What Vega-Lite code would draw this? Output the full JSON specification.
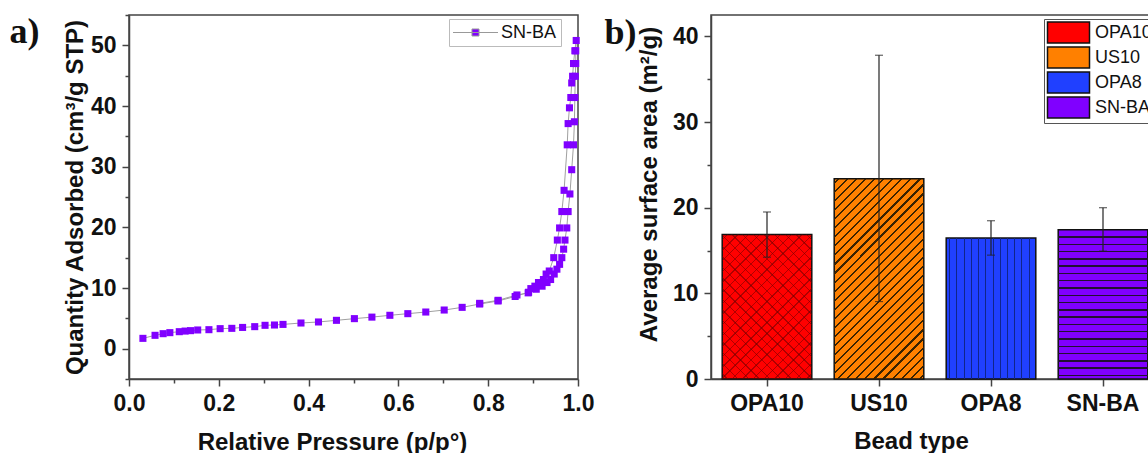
{
  "$schema": "https://vega.github.io/schema/vega-lite/v6.json",
  "padding": {"left": 8, "top": 13, "right": 0, "bottom": 0},
  "background": "white",
  "config": {
    "font": "Liberation Sans",
    "view": {"stroke": "#444", "strokeWidth": 1.5},
    "axis": {"domainColor": "#444", "domainWidth": 1.5, "tickColor": "#444", "tickWidth": 1.5, "labelFont": "Liberation Sans", "labelFontWeight": "bold", "labelFontSize": 23, "labelColor": "#111", "titleFont": "Liberation Sans", "titleFontWeight": "bold", "titleFontSize": 24, "titleColor": "#111", "grid": false},
    "title": {"font": "Liberation Serif", "fontSize": 36, "fontWeight": "bold", "color": "#111"}
  },
  "resolve": {"scale": {"color": "independent"}, "legend": {"color": "independent"}},
  "spacing": 8,
  "hconcat": [
    {
      "width": 449,
      "height": 364,
      "title": {"text": "a)", "anchor": "start", "frame": "bounds", "dx": -54, "dy": 41},
      "data": {"values": [
        {"i": 1, "p": 0.031, "q": 1.70, "series": "SN-BA"},
        {"i": 2, "p": 0.058, "q": 2.20, "series": "SN-BA"},
        {"i": 3, "p": 0.076, "q": 2.47, "series": "SN-BA"},
        {"i": 4, "p": 0.091, "q": 2.64, "series": "SN-BA"},
        {"i": 5, "p": 0.112, "q": 2.80, "series": "SN-BA"},
        {"i": 6, "p": 0.125, "q": 2.90, "series": "SN-BA"},
        {"i": 7, "p": 0.137, "q": 2.97, "series": "SN-BA"},
        {"i": 8, "p": 0.153, "q": 3.08, "series": "SN-BA"},
        {"i": 9, "p": 0.178, "q": 3.13, "series": "SN-BA"},
        {"i": 10, "p": 0.203, "q": 3.30, "series": "SN-BA"},
        {"i": 11, "p": 0.229, "q": 3.35, "series": "SN-BA"},
        {"i": 12, "p": 0.253, "q": 3.50, "series": "SN-BA"},
        {"i": 13, "p": 0.280, "q": 3.63, "series": "SN-BA"},
        {"i": 14, "p": 0.303, "q": 3.85, "series": "SN-BA"},
        {"i": 15, "p": 0.324, "q": 3.90, "series": "SN-BA"},
        {"i": 16, "p": 0.343, "q": 4.00, "series": "SN-BA"},
        {"i": 17, "p": 0.383, "q": 4.23, "series": "SN-BA"},
        {"i": 18, "p": 0.422, "q": 4.40, "series": "SN-BA"},
        {"i": 19, "p": 0.462, "q": 4.67, "series": "SN-BA"},
        {"i": 20, "p": 0.502, "q": 4.95, "series": "SN-BA"},
        {"i": 21, "p": 0.541, "q": 5.20, "series": "SN-BA"},
        {"i": 22, "p": 0.581, "q": 5.50, "series": "SN-BA"},
        {"i": 23, "p": 0.621, "q": 5.77, "series": "SN-BA"},
        {"i": 24, "p": 0.661, "q": 6.04, "series": "SN-BA"},
        {"i": 25, "p": 0.702, "q": 6.37, "series": "SN-BA"},
        {"i": 26, "p": 0.742, "q": 6.81, "series": "SN-BA"},
        {"i": 27, "p": 0.781, "q": 7.36, "series": "SN-BA"},
        {"i": 28, "p": 0.822, "q": 7.86, "series": "SN-BA"},
        {"i": 29, "p": 0.860, "q": 8.60, "series": "SN-BA"},
        {"i": 30, "p": 0.890, "q": 9.30, "series": "SN-BA"},
        {"i": 31, "p": 0.907, "q": 9.80, "series": "SN-BA"},
        {"i": 32, "p": 0.920, "q": 10.30, "series": "SN-BA"},
        {"i": 33, "p": 0.931, "q": 10.90, "series": "SN-BA"},
        {"i": 34, "p": 0.939, "q": 11.40, "series": "SN-BA"},
        {"i": 35, "p": 0.947, "q": 12.30, "series": "SN-BA"},
        {"i": 36, "p": 0.953, "q": 13.10, "series": "SN-BA"},
        {"i": 37, "p": 0.959, "q": 13.90, "series": "SN-BA"},
        {"i": 38, "p": 0.964, "q": 15.00, "series": "SN-BA"},
        {"i": 39, "p": 0.968, "q": 16.40, "series": "SN-BA"},
        {"i": 40, "p": 0.971, "q": 17.90, "series": "SN-BA"},
        {"i": 41, "p": 0.975, "q": 19.90, "series": "SN-BA"},
        {"i": 42, "p": 0.978, "q": 22.60, "series": "SN-BA"},
        {"i": 43, "p": 0.982, "q": 25.50, "series": "SN-BA"},
        {"i": 44, "p": 0.986, "q": 29.50, "series": "SN-BA"},
        {"i": 45, "p": 0.990, "q": 33.60, "series": "SN-BA"},
        {"i": 46, "p": 0.992, "q": 37.40, "series": "SN-BA"},
        {"i": 47, "p": 0.993, "q": 41.40, "series": "SN-BA"},
        {"i": 48, "p": 0.994, "q": 44.90, "series": "SN-BA"},
        {"i": 49, "p": 0.995, "q": 47.00, "series": "SN-BA"},
        {"i": 50, "p": 0.995, "q": 49.10, "series": "SN-BA"},
        {"i": 51, "p": 0.996, "q": 50.80, "series": "SN-BA"},
        {"i": 52, "p": 0.993, "q": 49.10, "series": "SN-BA"},
        {"i": 53, "p": 0.990, "q": 47.00, "series": "SN-BA"},
        {"i": 54, "p": 0.988, "q": 44.90, "series": "SN-BA"},
        {"i": 55, "p": 0.986, "q": 43.80, "series": "SN-BA"},
        {"i": 56, "p": 0.984, "q": 41.40, "series": "SN-BA"},
        {"i": 57, "p": 0.981, "q": 39.70, "series": "SN-BA"},
        {"i": 58, "p": 0.978, "q": 37.10, "series": "SN-BA"},
        {"i": 59, "p": 0.976, "q": 33.60, "series": "SN-BA"},
        {"i": 60, "p": 0.969, "q": 26.10, "series": "SN-BA"},
        {"i": 61, "p": 0.964, "q": 22.60, "series": "SN-BA"},
        {"i": 62, "p": 0.959, "q": 19.90, "series": "SN-BA"},
        {"i": 63, "p": 0.954, "q": 17.90, "series": "SN-BA"},
        {"i": 64, "p": 0.946, "q": 15.00, "series": "SN-BA"},
        {"i": 65, "p": 0.936, "q": 12.80, "series": "SN-BA"},
        {"i": 66, "p": 0.929, "q": 12.30, "series": "SN-BA"},
        {"i": 67, "p": 0.923, "q": 11.40, "series": "SN-BA"},
        {"i": 68, "p": 0.912, "q": 10.90, "series": "SN-BA"},
        {"i": 69, "p": 0.904, "q": 10.30, "series": "SN-BA"},
        {"i": 70, "p": 0.895, "q": 9.90, "series": "SN-BA"},
        {"i": 71, "p": 0.889, "q": 9.20, "series": "SN-BA"},
        {"i": 72, "p": 0.864, "q": 8.85, "series": "SN-BA"},
        {"i": 73, "p": 0.822, "q": 7.97, "series": "SN-BA"},
        {"i": 74, "p": 0.781, "q": 7.47, "series": "SN-BA"}
      ]},
      "encoding": {
        "x": {"field": "p", "type": "quantitative", "scale": {"domain": [0, 1], "nice": false, "zero": false},
          "axis": {"title": "Relative Pressure (p/p°)", "titleX": 203, "titlePadding": 15, "values": [0, 0.1, 0.2, 0.3, 0.4, 0.5, 0.6, 0.7, 0.8, 0.9, 1.0],
            "labelExpr": "round(datum.value * 10) % 2 === 0 ? format(datum.value, '.1f') : ''",
            "tickSize": {"condition": {"test": "round(datum.value * 10) % 2 === 0", "value": 7}, "value": 4},
            "labelPadding": 6, "labelFlush": false}},
        "y": {"field": "q", "type": "quantitative", "scale": {"domain": [-5, 55], "nice": false, "zero": false},
          "axis": {"title": "Quantity Adsorbed (cm³/g STP)", "titlePadding": 3, "values": [-5, 0, 5, 10, 15, 20, 25, 30, 35, 40, 45, 50, 55],
            "labelExpr": "datum.value % 10 === 0 ? format(datum.value, 'd') : ''",
            "tickSize": {"condition": {"test": "datum.value % 10 === 0", "value": 7}, "value": 4},
            "labelPadding": 6}}
      },
      "layer": [
        {"mark": {"type": "line", "color": "#a0a0a0", "strokeWidth": 1}, "encoding": {"order": {"field": "i", "type": "quantitative"}}},
        {"mark": {"type": "square", "filled": true, "size": 50, "opacity": 1},
          "encoding": {"color": {"field": "series", "type": "nominal", "scale": {"domain": ["SN-BA"], "range": ["#8000ff"]},
            "legend": {"orient": "none", "legendX": 320, "legendY": 4, "title": null,
              "symbolType": "M-2.5,0H2.5M-0.39,-0.39H0.39V0.39H-0.39Z", "symbolSize": 324, "symbolOffset": 13,
              "symbolStrokeColor": "#999", "symbolStrokeWidth": 1,
              "labelFont": "Liberation Sans", "labelFontSize": 18, "labelFontWeight": "normal", "labelColor": "#111",
              "strokeColor": "#bbb", "fillColor": "white", "padding": 4, "labelOffset": 16}}}}
      ]
    },
    {
      "width": 448,
      "height": 364,
      "title": {"text": "b)", "anchor": "start", "frame": "bounds", "dx": -33, "dy": 41},
      "data": {"values": [
        {"bead": "OPA10", "mean": 16.88, "lo": 14.22, "hi": 19.50},
        {"bead": "US10", "mean": 23.39, "lo": 9.04, "hi": 37.80},
        {"bead": "OPA8", "mean": 16.45, "lo": 14.46, "hi": 18.48},
        {"bead": "SN-BA", "mean": 17.43, "lo": 14.93, "hi": 20.00}
      ]},
      "encoding": {
        "x": {"field": "bead", "type": "nominal", "sort": null, "scale": {"paddingInner": 0.2, "paddingOuter": 0.1},
          "axis": {"title": "Bead type", "titleX": 200, "titlePadding": 14, "labelAngle": 0, "tickSize": 7, "labelPadding": 6}},
        "y": {"field": "mean", "type": "quantitative", "scale": {"domain": [0, 42.5], "nice": false},
          "axis": {"title": "Average surface area (m²/g)", "titleY": 169, "titlePadding": 11, "values": [0, 5, 10, 15, 20, 25, 30, 35, 40],
            "labelExpr": "datum.value % 10 === 0 ? format(datum.value, 'd') : ''",
            "tickSize": {"condition": {"test": "datum.value % 10 === 0", "value": 7}, "value": 4},
            "labelPadding": 6}}
      },
      "layer": [
        {"mark": {"type": "bar", "stroke": "#111", "strokeWidth": 1.5},
          "encoding": {
            "color": {"field": "bead", "type": "nominal", "sort": null,
              "scale": {"domain": ["OPA10", "US10", "OPA8", "SN-BA"], "range": ["#ff0000", "#ff8000", "#2040ff", "#8000ff"]},
              "legend": {"orient": "none", "legendX": 333, "legendY": 4, "title": null,
                "symbolType": "M-2,-1H2V1H-2Z", "symbolSize": 441, "symbolOffset": 11,
                "symbolStrokeColor": "#111", "symbolStrokeWidth": 1.5,
                "labelFont": "Liberation Sans", "labelFontSize": 18, "labelFontWeight": "normal", "labelColor": "#111",
                "strokeColor": "#555", "fillColor": "white", "padding": 2, "rowPadding": -4, "labelOffset": 15}}
          }},
        {"transform": [{"filter": "datum.bead === 'SN-BA'"}],
          "mark": {"type": "bar", "stroke": null, "fill": {"gradient": "linear", "x1": 0, "y1": 0, "x2": 0, "y2": 1, "stops": [
            {"offset": 0.0438, "color": "rgba(0,0,0,0)"}, {"offset": 0.0438, "color": "#221133"}, {"offset": 0.0538, "color": "#221133"}, {"offset": 0.0538, "color": "rgba(0,0,0,0)"},
            {"offset": 0.0926, "color": "rgba(0,0,0,0)"}, {"offset": 0.0926, "color": "#221133"}, {"offset": 0.1026, "color": "#221133"}, {"offset": 0.1026, "color": "rgba(0,0,0,0)"},
            {"offset": 0.1414, "color": "rgba(0,0,0,0)"}, {"offset": 0.1414, "color": "#221133"}, {"offset": 0.1514, "color": "#221133"}, {"offset": 0.1514, "color": "rgba(0,0,0,0)"},
            {"offset": 0.1902, "color": "rgba(0,0,0,0)"}, {"offset": 0.1902, "color": "#221133"}, {"offset": 0.2002, "color": "#221133"}, {"offset": 0.2002, "color": "rgba(0,0,0,0)"},
            {"offset": 0.2390, "color": "rgba(0,0,0,0)"}, {"offset": 0.2390, "color": "#221133"}, {"offset": 0.2490, "color": "#221133"}, {"offset": 0.2490, "color": "rgba(0,0,0,0)"},
            {"offset": 0.2878, "color": "rgba(0,0,0,0)"}, {"offset": 0.2878, "color": "#221133"}, {"offset": 0.2978, "color": "#221133"}, {"offset": 0.2978, "color": "rgba(0,0,0,0)"},
            {"offset": 0.3366, "color": "rgba(0,0,0,0)"}, {"offset": 0.3366, "color": "#221133"}, {"offset": 0.3466, "color": "#221133"}, {"offset": 0.3466, "color": "rgba(0,0,0,0)"},
            {"offset": 0.3854, "color": "rgba(0,0,0,0)"}, {"offset": 0.3854, "color": "#221133"}, {"offset": 0.3954, "color": "#221133"}, {"offset": 0.3954, "color": "rgba(0,0,0,0)"},
            {"offset": 0.4342, "color": "rgba(0,0,0,0)"}, {"offset": 0.4342, "color": "#221133"}, {"offset": 0.4442, "color": "#221133"}, {"offset": 0.4442, "color": "rgba(0,0,0,0)"},
            {"offset": 0.4830, "color": "rgba(0,0,0,0)"}, {"offset": 0.4830, "color": "#221133"}, {"offset": 0.4930, "color": "#221133"}, {"offset": 0.4930, "color": "rgba(0,0,0,0)"},
            {"offset": 0.5318, "color": "rgba(0,0,0,0)"}, {"offset": 0.5318, "color": "#221133"}, {"offset": 0.5418, "color": "#221133"}, {"offset": 0.5418, "color": "rgba(0,0,0,0)"},
            {"offset": 0.5806, "color": "rgba(0,0,0,0)"}, {"offset": 0.5806, "color": "#221133"}, {"offset": 0.5906, "color": "#221133"}, {"offset": 0.5906, "color": "rgba(0,0,0,0)"},
            {"offset": 0.6294, "color": "rgba(0,0,0,0)"}, {"offset": 0.6294, "color": "#221133"}, {"offset": 0.6394, "color": "#221133"}, {"offset": 0.6394, "color": "rgba(0,0,0,0)"},
            {"offset": 0.6782, "color": "rgba(0,0,0,0)"}, {"offset": 0.6782, "color": "#221133"}, {"offset": 0.6882, "color": "#221133"}, {"offset": 0.6882, "color": "rgba(0,0,0,0)"},
            {"offset": 0.7270, "color": "rgba(0,0,0,0)"}, {"offset": 0.7270, "color": "#221133"}, {"offset": 0.7370, "color": "#221133"}, {"offset": 0.7370, "color": "rgba(0,0,0,0)"},
            {"offset": 0.7758, "color": "rgba(0,0,0,0)"}, {"offset": 0.7758, "color": "#221133"}, {"offset": 0.7858, "color": "#221133"}, {"offset": 0.7858, "color": "rgba(0,0,0,0)"},
            {"offset": 0.8246, "color": "rgba(0,0,0,0)"}, {"offset": 0.8246, "color": "#221133"}, {"offset": 0.8346, "color": "#221133"}, {"offset": 0.8346, "color": "rgba(0,0,0,0)"},
            {"offset": 0.8734, "color": "rgba(0,0,0,0)"}, {"offset": 0.8734, "color": "#221133"}, {"offset": 0.8834, "color": "#221133"}, {"offset": 0.8834, "color": "rgba(0,0,0,0)"},
            {"offset": 0.9222, "color": "rgba(0,0,0,0)"}, {"offset": 0.9222, "color": "#221133"}, {"offset": 0.9322, "color": "#221133"}, {"offset": 0.9322, "color": "rgba(0,0,0,0)"},
            {"offset": 0.9710, "color": "rgba(0,0,0,0)"}, {"offset": 0.9710, "color": "#221133"}, {"offset": 0.9810, "color": "#221133"}, {"offset": 0.9810, "color": "rgba(0,0,0,0)"}
          ]}}},
        {"transform": [{"filter": "datum.bead === 'OPA8'"}],
          "mark": {"type": "bar", "stroke": null, "fill": {"gradient": "linear", "x1": 0, "y1": 0, "x2": 1, "y2": 0, "stops": [
            {"offset": 0.0344, "color": "rgba(0,0,0,0)"}, {"offset": 0.0344, "color": "#10258a"}, {"offset": 0.0456, "color": "#10258a"}, {"offset": 0.0456, "color": "rgba(0,0,0,0)"},
            {"offset": 0.1148, "color": "rgba(0,0,0,0)"}, {"offset": 0.1148, "color": "#10258a"}, {"offset": 0.1260, "color": "#10258a"}, {"offset": 0.1260, "color": "rgba(0,0,0,0)"},
            {"offset": 0.1952, "color": "rgba(0,0,0,0)"}, {"offset": 0.1952, "color": "#10258a"}, {"offset": 0.2064, "color": "#10258a"}, {"offset": 0.2064, "color": "rgba(0,0,0,0)"},
            {"offset": 0.2756, "color": "rgba(0,0,0,0)"}, {"offset": 0.2756, "color": "#10258a"}, {"offset": 0.2868, "color": "#10258a"}, {"offset": 0.2868, "color": "rgba(0,0,0,0)"},
            {"offset": 0.3560, "color": "rgba(0,0,0,0)"}, {"offset": 0.3560, "color": "#10258a"}, {"offset": 0.3672, "color": "#10258a"}, {"offset": 0.3672, "color": "rgba(0,0,0,0)"},
            {"offset": 0.4364, "color": "rgba(0,0,0,0)"}, {"offset": 0.4364, "color": "#10258a"}, {"offset": 0.4476, "color": "#10258a"}, {"offset": 0.4476, "color": "rgba(0,0,0,0)"},
            {"offset": 0.5168, "color": "rgba(0,0,0,0)"}, {"offset": 0.5168, "color": "#10258a"}, {"offset": 0.5280, "color": "#10258a"}, {"offset": 0.5280, "color": "rgba(0,0,0,0)"},
            {"offset": 0.5972, "color": "rgba(0,0,0,0)"}, {"offset": 0.5972, "color": "#10258a"}, {"offset": 0.6084, "color": "#10258a"}, {"offset": 0.6084, "color": "rgba(0,0,0,0)"},
            {"offset": 0.6776, "color": "rgba(0,0,0,0)"}, {"offset": 0.6776, "color": "#10258a"}, {"offset": 0.6888, "color": "#10258a"}, {"offset": 0.6888, "color": "rgba(0,0,0,0)"},
            {"offset": 0.7580, "color": "rgba(0,0,0,0)"}, {"offset": 0.7580, "color": "#10258a"}, {"offset": 0.7692, "color": "#10258a"}, {"offset": 0.7692, "color": "rgba(0,0,0,0)"},
            {"offset": 0.8384, "color": "rgba(0,0,0,0)"}, {"offset": 0.8384, "color": "#10258a"}, {"offset": 0.8496, "color": "#10258a"}, {"offset": 0.8496, "color": "rgba(0,0,0,0)"},
            {"offset": 0.9188, "color": "rgba(0,0,0,0)"}, {"offset": 0.9188, "color": "#10258a"}, {"offset": 0.9300, "color": "#10258a"}, {"offset": 0.9300, "color": "rgba(0,0,0,0)"}
          ]}}},
        {"transform": [{"filter": "datum.bead === 'US10'"}],
          "mark": {"type": "bar", "stroke": null, "fill": {"gradient": "linear", "x1": 0, "y1": 0, "x2": 0.5395, "y2": 1.206, "stops": [
            {"offset": 0.0119, "color": "rgba(0,0,0,0)"}, {"offset": 0.0119, "color": "#3a2200"}, {"offset": 0.0193, "color": "#3a2200"}, {"offset": 0.0193, "color": "rgba(0,0,0,0)"},
            {"offset": 0.0432, "color": "rgba(0,0,0,0)"}, {"offset": 0.0432, "color": "#3a2200"}, {"offset": 0.0506, "color": "#3a2200"}, {"offset": 0.0506, "color": "rgba(0,0,0,0)"},
            {"offset": 0.0744, "color": "rgba(0,0,0,0)"}, {"offset": 0.0744, "color": "#3a2200"}, {"offset": 0.0818, "color": "#3a2200"}, {"offset": 0.0818, "color": "rgba(0,0,0,0)"},
            {"offset": 0.1057, "color": "rgba(0,0,0,0)"}, {"offset": 0.1057, "color": "#3a2200"}, {"offset": 0.1131, "color": "#3a2200"}, {"offset": 0.1131, "color": "rgba(0,0,0,0)"},
            {"offset": 0.1369, "color": "rgba(0,0,0,0)"}, {"offset": 0.1369, "color": "#3a2200"}, {"offset": 0.1443, "color": "#3a2200"}, {"offset": 0.1443, "color": "rgba(0,0,0,0)"},
            {"offset": 0.1682, "color": "rgba(0,0,0,0)"}, {"offset": 0.1682, "color": "#3a2200"}, {"offset": 0.1756, "color": "#3a2200"}, {"offset": 0.1756, "color": "rgba(0,0,0,0)"},
            {"offset": 0.1994, "color": "rgba(0,0,0,0)"}, {"offset": 0.1994, "color": "#3a2200"}, {"offset": 0.2068, "color": "#3a2200"}, {"offset": 0.2068, "color": "rgba(0,0,0,0)"},
            {"offset": 0.2307, "color": "rgba(0,0,0,0)"}, {"offset": 0.2307, "color": "#3a2200"}, {"offset": 0.2381, "color": "#3a2200"}, {"offset": 0.2381, "color": "rgba(0,0,0,0)"},
            {"offset": 0.2619, "color": "rgba(0,0,0,0)"}, {"offset": 0.2619, "color": "#3a2200"}, {"offset": 0.2693, "color": "#3a2200"}, {"offset": 0.2693, "color": "rgba(0,0,0,0)"},
            {"offset": 0.2932, "color": "rgba(0,0,0,0)"}, {"offset": 0.2932, "color": "#3a2200"}, {"offset": 0.3006, "color": "#3a2200"}, {"offset": 0.3006, "color": "rgba(0,0,0,0)"},
            {"offset": 0.3244, "color": "rgba(0,0,0,0)"}, {"offset": 0.3244, "color": "#3a2200"}, {"offset": 0.3318, "color": "#3a2200"}, {"offset": 0.3318, "color": "rgba(0,0,0,0)"},
            {"offset": 0.3557, "color": "rgba(0,0,0,0)"}, {"offset": 0.3557, "color": "#3a2200"}, {"offset": 0.3631, "color": "#3a2200"}, {"offset": 0.3631, "color": "rgba(0,0,0,0)"},
            {"offset": 0.3869, "color": "rgba(0,0,0,0)"}, {"offset": 0.3869, "color": "#3a2200"}, {"offset": 0.3943, "color": "#3a2200"}, {"offset": 0.3943, "color": "rgba(0,0,0,0)"},
            {"offset": 0.4182, "color": "rgba(0,0,0,0)"}, {"offset": 0.4182, "color": "#3a2200"}, {"offset": 0.4256, "color": "#3a2200"}, {"offset": 0.4256, "color": "rgba(0,0,0,0)"},
            {"offset": 0.4494, "color": "rgba(0,0,0,0)"}, {"offset": 0.4494, "color": "#3a2200"}, {"offset": 0.4568, "color": "#3a2200"}, {"offset": 0.4568, "color": "rgba(0,0,0,0)"},
            {"offset": 0.4807, "color": "rgba(0,0,0,0)"}, {"offset": 0.4807, "color": "#3a2200"}, {"offset": 0.4881, "color": "#3a2200"}, {"offset": 0.4881, "color": "rgba(0,0,0,0)"},
            {"offset": 0.5119, "color": "rgba(0,0,0,0)"}, {"offset": 0.5119, "color": "#3a2200"}, {"offset": 0.5193, "color": "#3a2200"}, {"offset": 0.5193, "color": "rgba(0,0,0,0)"},
            {"offset": 0.5432, "color": "rgba(0,0,0,0)"}, {"offset": 0.5432, "color": "#3a2200"}, {"offset": 0.5506, "color": "#3a2200"}, {"offset": 0.5506, "color": "rgba(0,0,0,0)"},
            {"offset": 0.5744, "color": "rgba(0,0,0,0)"}, {"offset": 0.5744, "color": "#3a2200"}, {"offset": 0.5818, "color": "#3a2200"}, {"offset": 0.5818, "color": "rgba(0,0,0,0)"},
            {"offset": 0.6057, "color": "rgba(0,0,0,0)"}, {"offset": 0.6057, "color": "#3a2200"}, {"offset": 0.6131, "color": "#3a2200"}, {"offset": 0.6131, "color": "rgba(0,0,0,0)"},
            {"offset": 0.6369, "color": "rgba(0,0,0,0)"}, {"offset": 0.6369, "color": "#3a2200"}, {"offset": 0.6443, "color": "#3a2200"}, {"offset": 0.6443, "color": "rgba(0,0,0,0)"},
            {"offset": 0.6682, "color": "rgba(0,0,0,0)"}, {"offset": 0.6682, "color": "#3a2200"}, {"offset": 0.6756, "color": "#3a2200"}, {"offset": 0.6756, "color": "rgba(0,0,0,0)"},
            {"offset": 0.6994, "color": "rgba(0,0,0,0)"}, {"offset": 0.6994, "color": "#3a2200"}, {"offset": 0.7068, "color": "#3a2200"}, {"offset": 0.7068, "color": "rgba(0,0,0,0)"},
            {"offset": 0.7307, "color": "rgba(0,0,0,0)"}, {"offset": 0.7307, "color": "#3a2200"}, {"offset": 0.7381, "color": "#3a2200"}, {"offset": 0.7381, "color": "rgba(0,0,0,0)"},
            {"offset": 0.7619, "color": "rgba(0,0,0,0)"}, {"offset": 0.7619, "color": "#3a2200"}, {"offset": 0.7693, "color": "#3a2200"}, {"offset": 0.7693, "color": "rgba(0,0,0,0)"},
            {"offset": 0.7932, "color": "rgba(0,0,0,0)"}, {"offset": 0.7932, "color": "#3a2200"}, {"offset": 0.8006, "color": "#3a2200"}, {"offset": 0.8006, "color": "rgba(0,0,0,0)"},
            {"offset": 0.8244, "color": "rgba(0,0,0,0)"}, {"offset": 0.8244, "color": "#3a2200"}, {"offset": 0.8318, "color": "#3a2200"}, {"offset": 0.8318, "color": "rgba(0,0,0,0)"},
            {"offset": 0.8557, "color": "rgba(0,0,0,0)"}, {"offset": 0.8557, "color": "#3a2200"}, {"offset": 0.8631, "color": "#3a2200"}, {"offset": 0.8631, "color": "rgba(0,0,0,0)"},
            {"offset": 0.8869, "color": "rgba(0,0,0,0)"}, {"offset": 0.8869, "color": "#3a2200"}, {"offset": 0.8943, "color": "#3a2200"}, {"offset": 0.8943, "color": "rgba(0,0,0,0)"},
            {"offset": 0.9182, "color": "rgba(0,0,0,0)"}, {"offset": 0.9182, "color": "#3a2200"}, {"offset": 0.9256, "color": "#3a2200"}, {"offset": 0.9256, "color": "rgba(0,0,0,0)"},
            {"offset": 0.9494, "color": "rgba(0,0,0,0)"}, {"offset": 0.9494, "color": "#3a2200"}, {"offset": 0.9568, "color": "#3a2200"}, {"offset": 0.9568, "color": "rgba(0,0,0,0)"},
            {"offset": 0.9807, "color": "rgba(0,0,0,0)"}, {"offset": 0.9807, "color": "#3a2200"}, {"offset": 0.9881, "color": "#3a2200"}, {"offset": 0.9881, "color": "rgba(0,0,0,0)"}
          ]}}},
        {"transform": [{"filter": "datum.bead === 'OPA10'"}],
          "mark": {"type": "bar", "stroke": null, "fill": {"gradient": "linear", "x1": 0, "y1": 0, "x2": 0.7252, "y2": 1.1703, "stops": [
            {"offset": 0.0197, "color": "rgba(0,0,0,0)"}, {"offset": 0.0197, "color": "rgba(110,0,0,0.55)"}, {"offset": 0.0257, "color": "rgba(110,0,0,0.55)"}, {"offset": 0.0257, "color": "rgba(0,0,0,0)"},
            {"offset": 0.0652, "color": "rgba(0,0,0,0)"}, {"offset": 0.0652, "color": "rgba(110,0,0,0.55)"}, {"offset": 0.0712, "color": "rgba(110,0,0,0.55)"}, {"offset": 0.0712, "color": "rgba(0,0,0,0)"},
            {"offset": 0.1106, "color": "rgba(0,0,0,0)"}, {"offset": 0.1106, "color": "rgba(110,0,0,0.55)"}, {"offset": 0.1166, "color": "rgba(110,0,0,0.55)"}, {"offset": 0.1166, "color": "rgba(0,0,0,0)"},
            {"offset": 0.1561, "color": "rgba(0,0,0,0)"}, {"offset": 0.1561, "color": "rgba(110,0,0,0.55)"}, {"offset": 0.1621, "color": "rgba(110,0,0,0.55)"}, {"offset": 0.1621, "color": "rgba(0,0,0,0)"},
            {"offset": 0.2015, "color": "rgba(0,0,0,0)"}, {"offset": 0.2015, "color": "rgba(110,0,0,0.55)"}, {"offset": 0.2075, "color": "rgba(110,0,0,0.55)"}, {"offset": 0.2075, "color": "rgba(0,0,0,0)"},
            {"offset": 0.2470, "color": "rgba(0,0,0,0)"}, {"offset": 0.2470, "color": "rgba(110,0,0,0.55)"}, {"offset": 0.2530, "color": "rgba(110,0,0,0.55)"}, {"offset": 0.2530, "color": "rgba(0,0,0,0)"},
            {"offset": 0.2925, "color": "rgba(0,0,0,0)"}, {"offset": 0.2925, "color": "rgba(110,0,0,0.55)"}, {"offset": 0.2985, "color": "rgba(110,0,0,0.55)"}, {"offset": 0.2985, "color": "rgba(0,0,0,0)"},
            {"offset": 0.3379, "color": "rgba(0,0,0,0)"}, {"offset": 0.3379, "color": "rgba(110,0,0,0.55)"}, {"offset": 0.3439, "color": "rgba(110,0,0,0.55)"}, {"offset": 0.3439, "color": "rgba(0,0,0,0)"},
            {"offset": 0.3834, "color": "rgba(0,0,0,0)"}, {"offset": 0.3834, "color": "rgba(110,0,0,0.55)"}, {"offset": 0.3894, "color": "rgba(110,0,0,0.55)"}, {"offset": 0.3894, "color": "rgba(0,0,0,0)"},
            {"offset": 0.4288, "color": "rgba(0,0,0,0)"}, {"offset": 0.4288, "color": "rgba(110,0,0,0.55)"}, {"offset": 0.4348, "color": "rgba(110,0,0,0.55)"}, {"offset": 0.4348, "color": "rgba(0,0,0,0)"},
            {"offset": 0.4743, "color": "rgba(0,0,0,0)"}, {"offset": 0.4743, "color": "rgba(110,0,0,0.55)"}, {"offset": 0.4803, "color": "rgba(110,0,0,0.55)"}, {"offset": 0.4803, "color": "rgba(0,0,0,0)"},
            {"offset": 0.5197, "color": "rgba(0,0,0,0)"}, {"offset": 0.5197, "color": "rgba(110,0,0,0.55)"}, {"offset": 0.5257, "color": "rgba(110,0,0,0.55)"}, {"offset": 0.5257, "color": "rgba(0,0,0,0)"},
            {"offset": 0.5652, "color": "rgba(0,0,0,0)"}, {"offset": 0.5652, "color": "rgba(110,0,0,0.55)"}, {"offset": 0.5712, "color": "rgba(110,0,0,0.55)"}, {"offset": 0.5712, "color": "rgba(0,0,0,0)"},
            {"offset": 0.6106, "color": "rgba(0,0,0,0)"}, {"offset": 0.6106, "color": "rgba(110,0,0,0.55)"}, {"offset": 0.6166, "color": "rgba(110,0,0,0.55)"}, {"offset": 0.6166, "color": "rgba(0,0,0,0)"},
            {"offset": 0.6561, "color": "rgba(0,0,0,0)"}, {"offset": 0.6561, "color": "rgba(110,0,0,0.55)"}, {"offset": 0.6621, "color": "rgba(110,0,0,0.55)"}, {"offset": 0.6621, "color": "rgba(0,0,0,0)"},
            {"offset": 0.7015, "color": "rgba(0,0,0,0)"}, {"offset": 0.7015, "color": "rgba(110,0,0,0.55)"}, {"offset": 0.7075, "color": "rgba(110,0,0,0.55)"}, {"offset": 0.7075, "color": "rgba(0,0,0,0)"},
            {"offset": 0.7470, "color": "rgba(0,0,0,0)"}, {"offset": 0.7470, "color": "rgba(110,0,0,0.55)"}, {"offset": 0.7530, "color": "rgba(110,0,0,0.55)"}, {"offset": 0.7530, "color": "rgba(0,0,0,0)"},
            {"offset": 0.7925, "color": "rgba(0,0,0,0)"}, {"offset": 0.7925, "color": "rgba(110,0,0,0.55)"}, {"offset": 0.7985, "color": "rgba(110,0,0,0.55)"}, {"offset": 0.7985, "color": "rgba(0,0,0,0)"},
            {"offset": 0.8379, "color": "rgba(0,0,0,0)"}, {"offset": 0.8379, "color": "rgba(110,0,0,0.55)"}, {"offset": 0.8439, "color": "rgba(110,0,0,0.55)"}, {"offset": 0.8439, "color": "rgba(0,0,0,0)"},
            {"offset": 0.8834, "color": "rgba(0,0,0,0)"}, {"offset": 0.8834, "color": "rgba(110,0,0,0.55)"}, {"offset": 0.8894, "color": "rgba(110,0,0,0.55)"}, {"offset": 0.8894, "color": "rgba(0,0,0,0)"},
            {"offset": 0.9288, "color": "rgba(0,0,0,0)"}, {"offset": 0.9288, "color": "rgba(110,0,0,0.55)"}, {"offset": 0.9348, "color": "rgba(110,0,0,0.55)"}, {"offset": 0.9348, "color": "rgba(0,0,0,0)"},
            {"offset": 0.9743, "color": "rgba(0,0,0,0)"}, {"offset": 0.9743, "color": "rgba(110,0,0,0.55)"}, {"offset": 0.9803, "color": "rgba(110,0,0,0.55)"}, {"offset": 0.9803, "color": "rgba(0,0,0,0)"}
          ]}}},
        {"transform": [{"filter": "datum.bead === 'OPA10'"}],
          "mark": {"type": "bar", "stroke": null, "fill": {"gradient": "linear", "x1": 0, "y1": 1, "x2": 0.7252, "y2": -0.1703, "stops": [
            {"offset": 0.0197, "color": "rgba(0,0,0,0)"}, {"offset": 0.0197, "color": "rgba(110,0,0,0.55)"}, {"offset": 0.0257, "color": "rgba(110,0,0,0.55)"}, {"offset": 0.0257, "color": "rgba(0,0,0,0)"},
            {"offset": 0.0652, "color": "rgba(0,0,0,0)"}, {"offset": 0.0652, "color": "rgba(110,0,0,0.55)"}, {"offset": 0.0712, "color": "rgba(110,0,0,0.55)"}, {"offset": 0.0712, "color": "rgba(0,0,0,0)"},
            {"offset": 0.1106, "color": "rgba(0,0,0,0)"}, {"offset": 0.1106, "color": "rgba(110,0,0,0.55)"}, {"offset": 0.1166, "color": "rgba(110,0,0,0.55)"}, {"offset": 0.1166, "color": "rgba(0,0,0,0)"},
            {"offset": 0.1561, "color": "rgba(0,0,0,0)"}, {"offset": 0.1561, "color": "rgba(110,0,0,0.55)"}, {"offset": 0.1621, "color": "rgba(110,0,0,0.55)"}, {"offset": 0.1621, "color": "rgba(0,0,0,0)"},
            {"offset": 0.2015, "color": "rgba(0,0,0,0)"}, {"offset": 0.2015, "color": "rgba(110,0,0,0.55)"}, {"offset": 0.2075, "color": "rgba(110,0,0,0.55)"}, {"offset": 0.2075, "color": "rgba(0,0,0,0)"},
            {"offset": 0.2470, "color": "rgba(0,0,0,0)"}, {"offset": 0.2470, "color": "rgba(110,0,0,0.55)"}, {"offset": 0.2530, "color": "rgba(110,0,0,0.55)"}, {"offset": 0.2530, "color": "rgba(0,0,0,0)"},
            {"offset": 0.2925, "color": "rgba(0,0,0,0)"}, {"offset": 0.2925, "color": "rgba(110,0,0,0.55)"}, {"offset": 0.2985, "color": "rgba(110,0,0,0.55)"}, {"offset": 0.2985, "color": "rgba(0,0,0,0)"},
            {"offset": 0.3379, "color": "rgba(0,0,0,0)"}, {"offset": 0.3379, "color": "rgba(110,0,0,0.55)"}, {"offset": 0.3439, "color": "rgba(110,0,0,0.55)"}, {"offset": 0.3439, "color": "rgba(0,0,0,0)"},
            {"offset": 0.3834, "color": "rgba(0,0,0,0)"}, {"offset": 0.3834, "color": "rgba(110,0,0,0.55)"}, {"offset": 0.3894, "color": "rgba(110,0,0,0.55)"}, {"offset": 0.3894, "color": "rgba(0,0,0,0)"},
            {"offset": 0.4288, "color": "rgba(0,0,0,0)"}, {"offset": 0.4288, "color": "rgba(110,0,0,0.55)"}, {"offset": 0.4348, "color": "rgba(110,0,0,0.55)"}, {"offset": 0.4348, "color": "rgba(0,0,0,0)"},
            {"offset": 0.4743, "color": "rgba(0,0,0,0)"}, {"offset": 0.4743, "color": "rgba(110,0,0,0.55)"}, {"offset": 0.4803, "color": "rgba(110,0,0,0.55)"}, {"offset": 0.4803, "color": "rgba(0,0,0,0)"},
            {"offset": 0.5197, "color": "rgba(0,0,0,0)"}, {"offset": 0.5197, "color": "rgba(110,0,0,0.55)"}, {"offset": 0.5257, "color": "rgba(110,0,0,0.55)"}, {"offset": 0.5257, "color": "rgba(0,0,0,0)"},
            {"offset": 0.5652, "color": "rgba(0,0,0,0)"}, {"offset": 0.5652, "color": "rgba(110,0,0,0.55)"}, {"offset": 0.5712, "color": "rgba(110,0,0,0.55)"}, {"offset": 0.5712, "color": "rgba(0,0,0,0)"},
            {"offset": 0.6106, "color": "rgba(0,0,0,0)"}, {"offset": 0.6106, "color": "rgba(110,0,0,0.55)"}, {"offset": 0.6166, "color": "rgba(110,0,0,0.55)"}, {"offset": 0.6166, "color": "rgba(0,0,0,0)"},
            {"offset": 0.6561, "color": "rgba(0,0,0,0)"}, {"offset": 0.6561, "color": "rgba(110,0,0,0.55)"}, {"offset": 0.6621, "color": "rgba(110,0,0,0.55)"}, {"offset": 0.6621, "color": "rgba(0,0,0,0)"},
            {"offset": 0.7015, "color": "rgba(0,0,0,0)"}, {"offset": 0.7015, "color": "rgba(110,0,0,0.55)"}, {"offset": 0.7075, "color": "rgba(110,0,0,0.55)"}, {"offset": 0.7075, "color": "rgba(0,0,0,0)"},
            {"offset": 0.7470, "color": "rgba(0,0,0,0)"}, {"offset": 0.7470, "color": "rgba(110,0,0,0.55)"}, {"offset": 0.7530, "color": "rgba(110,0,0,0.55)"}, {"offset": 0.7530, "color": "rgba(0,0,0,0)"},
            {"offset": 0.7925, "color": "rgba(0,0,0,0)"}, {"offset": 0.7925, "color": "rgba(110,0,0,0.55)"}, {"offset": 0.7985, "color": "rgba(110,0,0,0.55)"}, {"offset": 0.7985, "color": "rgba(0,0,0,0)"},
            {"offset": 0.8379, "color": "rgba(0,0,0,0)"}, {"offset": 0.8379, "color": "rgba(110,0,0,0.55)"}, {"offset": 0.8439, "color": "rgba(110,0,0,0.55)"}, {"offset": 0.8439, "color": "rgba(0,0,0,0)"},
            {"offset": 0.8834, "color": "rgba(0,0,0,0)"}, {"offset": 0.8834, "color": "rgba(110,0,0,0.55)"}, {"offset": 0.8894, "color": "rgba(110,0,0,0.55)"}, {"offset": 0.8894, "color": "rgba(0,0,0,0)"},
            {"offset": 0.9288, "color": "rgba(0,0,0,0)"}, {"offset": 0.9288, "color": "rgba(110,0,0,0.55)"}, {"offset": 0.9348, "color": "rgba(110,0,0,0.55)"}, {"offset": 0.9348, "color": "rgba(0,0,0,0)"},
            {"offset": 0.9743, "color": "rgba(0,0,0,0)"}, {"offset": 0.9743, "color": "rgba(110,0,0,0.55)"}, {"offset": 0.9803, "color": "rgba(110,0,0,0.55)"}, {"offset": 0.9803, "color": "rgba(0,0,0,0)"}
          ]}}},
        {"mark": {"type": "rule", "color": "#222", "strokeWidth": 1.2},
          "encoding": {"y": {"field": "lo", "type": "quantitative"}, "y2": {"field": "hi"}}},
        {"mark": {"type": "tick", "color": "#222", "size": 8, "thickness": 1.2},
          "encoding": {"y": {"field": "lo", "type": "quantitative"}}},
        {"mark": {"type": "tick", "color": "#222", "size": 8, "thickness": 1.2},
          "encoding": {"y": {"field": "hi", "type": "quantitative"}}}
      ]
    }
  ]
}
